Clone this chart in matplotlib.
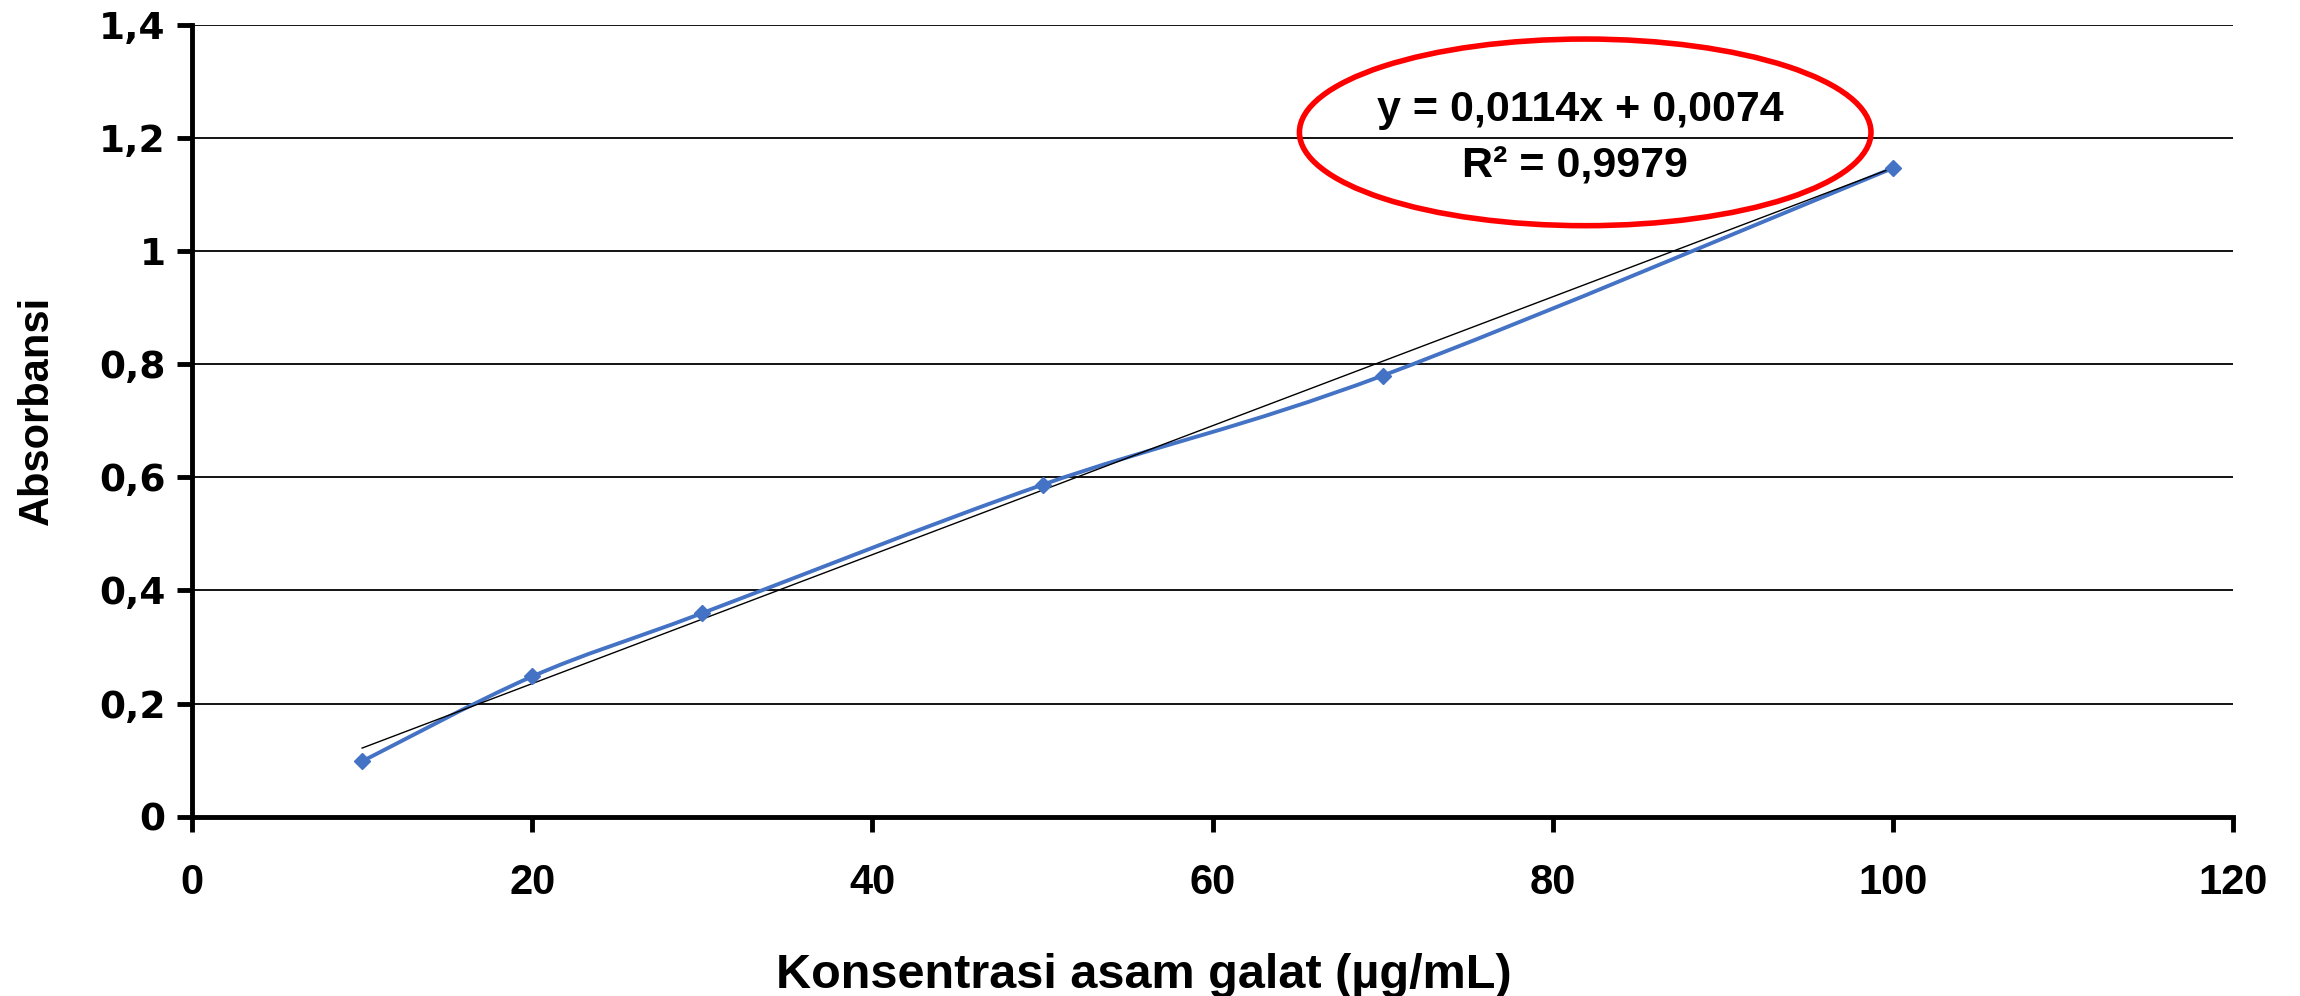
import numpy as np
import matplotlib
matplotlib.use("Agg")
import matplotlib.pyplot as plt
from matplotlib.path import Path
from matplotlib.patches import PathPatch, Ellipse
from matplotlib.ticker import FuncFormatter, MultipleLocator

# data
konsentrasi = [10, 20, 30, 50, 70, 100]          # ug/mL
absorbansi = [0.098, 0.248, 0.36, 0.587, 0.78, 1.147]
slope = 0.0114
intercept = 0.0074
r2 = 0.9979

narrow = ['Liberation Sans Narrow', 'Liberation Sans', 'DejaVu Sans']

fig = plt.figure(figsize=(23, 9.96), dpi=100)
ax = fig.add_axes([0.0835, 0.18, 0.8875, 0.795])

# smoothed line like excel (catmull-rom -> bezier)
x = np.array(konsentrasi, dtype=float)
y = np.array(absorbansi, dtype=float)
pts = np.column_stack([x, y])
verts = [pts[0]]
codes = [Path.MOVETO]
n = len(pts)
for i in range(n - 1):
    p0 = pts[max(i - 1, 0)]
    p1 = pts[i]
    p2 = pts[i + 1]
    p3 = pts[min(i + 2, n - 1)]
    c1 = p1 + (p2 - p0) / 6.0
    c2 = p2 - (p3 - p1) / 6.0
    verts += [c1, c2, p2]
    codes += [Path.CURVE4] * 3
ax.add_patch(PathPatch(Path(verts, codes), fill=False, edgecolor='#4472C4', lw=2.8, zorder=3))
ax.plot(konsentrasi, absorbansi, ls='none', marker='D', ms=8.5, color='#4472C4', zorder=4)

# linear trendline
xt = np.array([konsentrasi[0], konsentrasi[-1]])
ax.plot(xt, slope * xt + intercept, color='black', lw=1.0, zorder=3.5)

ax.set_xlim(0, 120)
ax.set_ylim(0, 1.4)
ax.xaxis.set_major_locator(MultipleLocator(20))
ax.yaxis.set_major_locator(MultipleLocator(0.2))
ax.yaxis.set_major_formatter(FuncFormatter(lambda v, p: ('%g' % round(v, 2)).replace('.', ',')))

ax.grid(axis='y', color='black', lw=1.3)
ax.set_axisbelow(True)
for s in ['top', 'right']:
    ax.spines[s].set_visible(False)
for s in ['left', 'bottom']:
    ax.spines[s].set_linewidth(3.5)
ax.tick_params(axis='both', direction='out', length=11, width=3.5)
ax.tick_params(axis='y', pad=8)
ax.tick_params(axis='x', pad=22)

for lab in ax.get_yticklabels():
    lab.set_fontfamily('DejaVu Sans')
    lab.set_fontweight('bold')
    lab.set_fontsize(27)
for lab in ax.get_xticklabels():
    lab.set_fontfamily(narrow)
    lab.set_fontweight('bold')
    lab.set_fontsize(30)

ax.set_xlabel('Konsentrasi asam galat (µg/mL)', family=narrow, fontweight='bold', fontsize=35)
ax.xaxis.set_label_coords(0.4665, -0.172)
ax.set_ylabel('Absorbansi', family=narrow, fontweight='bold', fontsize=30)
ax.yaxis.set_label_coords(-0.066, 0.513)

# regression equation in red ellipse
ax.text(81.6, 1.25, 'y = 0,0114x + 0,0074', ha='center', va='center',
        family=narrow, fontweight='bold', fontsize=31, zorder=5)
ax.text(81.3, 1.15, 'R² = 0,9979', ha='center', va='center',
        family=narrow, fontweight='bold', fontsize=31, zorder=5)
ax.add_patch(Ellipse((81.9, 1.21), 33.6, 0.33, fill=False, edgecolor='red', lw=4, zorder=5, clip_on=False))

fig.savefig('out.png', dpi=100)
